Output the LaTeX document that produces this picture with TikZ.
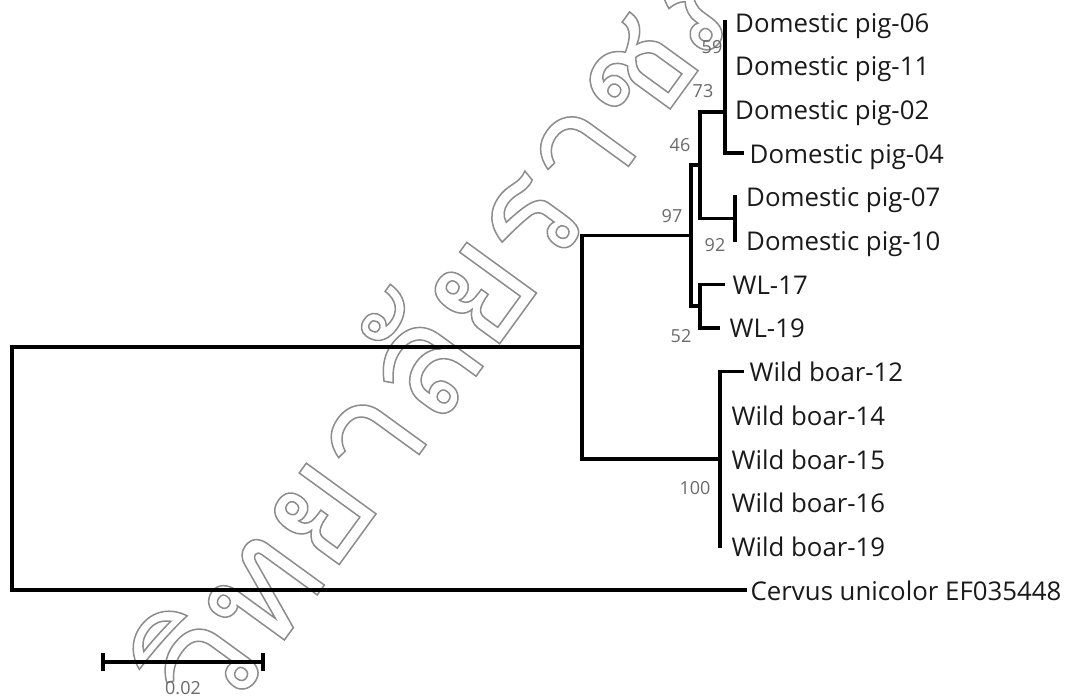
\documentclass[tikz,border=0pt]{standalone}
\usepackage{fontspec}
\setmainfont{Open Sans}
\newfontfamily\thaifont[Script=Thai]{Loma}
\newcommand\wmstroke{\special{pdf:literal direct 1 Tr 1.5 w}}
\newcommand\wmfill{\special{pdf:literal direct 0 Tr}}
\definecolor{labgray}{HTML}{6A6A6A}
\definecolor{leafink}{HTML}{1A1A1A}
\definecolor{wmgray}{HTML}{8C8C8C}
\tikzset{
  branch/.style={line width=3.3pt, draw=black, line cap=rect, line join=miter},
  leaf/.style={anchor=base west, inner sep=0pt, text=leafink, font=\fontsize{25.8}{30}\selectfont},
  boot/.style={inner sep=0pt, text=labgray, font=\fontsize{18}{21}\selectfont},
  wmark/.style={inner sep=0pt, text=wmgray, font=\thaifont\fontsize{155}{180}\selectfont, rotate=54}
}
\begin{document}
\begin{tikzpicture}[x=1pt,y=-1pt]
\useasboundingbox[fill=white] (0,0) rectangle (1070,697);
% watermark
\coordinate (wm) at (219,730);
\node[wmark, anchor=base west] (wm1) at (wm) {\wmstroke วิทยาลัยราชภัฏ\wmfill};
\node[wmark, anchor=base east] (wm0) at (wm) {\wmstroke มหา\wmfill};
% leaf tips
\coordinate (t06) at (725,22);
\coordinate (t11) at (725,65.7);
\coordinate (t02) at (725,109.4);
\coordinate (t04) at (742,153.1);
\coordinate (t07) at (735,196.8);
\coordinate (t10) at (735,240.5);
\coordinate (t17) at (723,284.2);
\coordinate (t19) at (718,327.9);
\coordinate (t12) at (742,371.6);
\coordinate (t14) at (720,415.3);
\coordinate (t15) at (720,459);
\coordinate (t16) at (720,502.7);
\coordinate (t19b) at (720,546.4);
\coordinate (tcer) at (745,590.1);
% internal nodes
\coordinate (n59) at (725,43.9);
\coordinate (n73) at (725,76.6);
\coordinate (nX) at (725,112);
\coordinate (n46) at (700,165);
\coordinate (n92) at (735,218.6);
\coordinate (n97) at (691,235.5);
\coordinate (n52) at (700,306);
\coordinate (nin) at (582,347);
\coordinate (n100) at (720,459);
\coordinate (root) at (12,468.5);
% leaf labels (baseline = tip y + 10)
\node[leaf] (L06) at (735,32) {Domestic pig-06};
\node[leaf] (L11) at (735,75.7) {Domestic pig-11};
\node[leaf] (L02) at (735,119.4) {Domestic pig-02};
\node[leaf] (L04) at (749.5,163.1) {Domestic pig-04};
\node[leaf] (L07) at (746,206.8) {Domestic pig-07};
\node[leaf] (L10) at (746,250.5) {Domestic pig-10};
\node[leaf] (L17) at (732.5,294.2) {WL-17};
\node[leaf] (L19) at (729.5,337.9) {WL-19};
\node[leaf] (L12) at (749.5,381.6) {Wild boar-12};
\node[leaf] (L14) at (731.5,425.3) {Wild boar-14};
\node[leaf] (L15) at (731.5,469) {Wild boar-15};
\node[leaf] (L16) at (731.5,512.7) {Wild boar-16};
\node[leaf] (L19b) at (731.5,556.4) {Wild boar-19};
\node[leaf] (Lcer) at (750.5,600.1) {Cervus unicolor EF035448};
% branches
\draw[branch] (t06) -- (t11);
\draw[branch] (n59) -- (t02);
\draw[line width=4.6pt] (t11) -- (t02);
\draw[branch] (n73) |- (t04);
\draw[branch] (nX) -| (n46) |- (n92);
\draw[branch] (t07) -- (t10);
\draw[branch] (n46) -| (n97) |- (n52);
\draw[branch] (t17) -| (n52) |- (t19);
\draw[branch] (n97) -| (nin) |- (n100);
\draw[branch] (t12) -| (n100) |- (t19b);
\draw[branch] (nin) -| (root) |- (tcer);
% bootstrap values
\node[boot] (b59) at (712,47) {59};
\node[boot] (b73) at (703,91) {73};
\node[boot] (b46) at (680,145) {46};
\node[boot] (b97) at (672,216) {97};
\node[boot] (b92) at (715,245) {92};
\node[boot] (b52) at (681,336) {52};
\node[boot] (b100) at (695,488) {100};
% scale bar
\coordinate (sb1) at (103,662);
\coordinate (sb2) at (263,662);
\draw[branch, line cap=butt] (sb1) -- (sb2);
\draw[branch, line cap=butt] ([yshift=-9pt]sb1) -- ([yshift=9pt]sb1);
\draw[branch, line cap=butt] ([yshift=-9pt]sb2) -- ([yshift=9pt]sb2);
\node[boot] (sblab) at (183,688) {0.02};
\end{tikzpicture}
\end{document}
